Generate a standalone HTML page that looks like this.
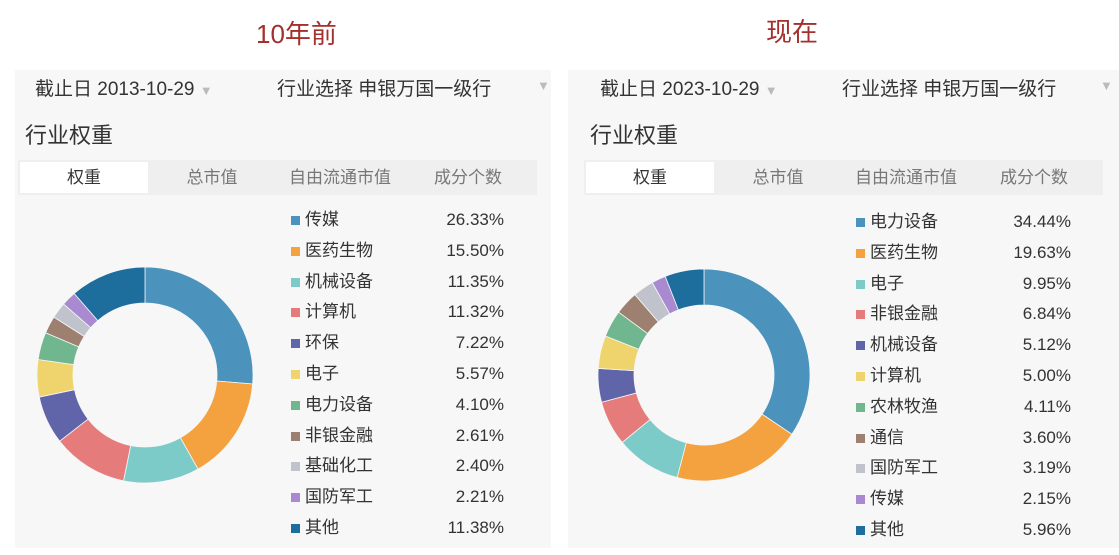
<!DOCTYPE html>
<html><head><meta charset="utf-8">
<style>
body{margin:0;width:1119px;height:555px;background:#fff;position:relative;overflow:hidden;font-family:"Liberation Sans","Noto Sans CJK SC",sans-serif;color:#333}
.a{position:absolute;white-space:nowrap}
.panel{position:absolute;top:70px;height:478px;background:#f7f7f7}
.title{font-size:26px;color:#a3302c;font-family:"Liberation Sans","Noto Sans CJK SC",sans-serif}
.hdr{font-size:19px;color:#333}
.arr{color:#bbb;font-size:13px}
.h2{font-size:22px;color:#333}
.tabs{position:absolute;top:160px;height:35px;background:#efefef;width:519px}
.tab{position:absolute;top:0;height:35px;line-height:35px;text-align:center;width:128px;font-size:17px;color:#777}
.sel{background:#fff;color:#333;top:2px;height:31px;line-height:31px;left:2px}
.lg{position:absolute;font-size:17px;color:#333;height:22px;line-height:22px}
.sq{position:absolute;width:9px;height:9px;top:7px}
</style></head><body>
<div class="a title" style="left:256px;top:14px">10年前</div>
<div class="a title" style="left:766px;top:12px">现在</div>

<div class="panel" style="left:15px;width:536px"></div>
<div class="panel" style="left:568px;width:551px"></div>

<div class="a hdr" style="left:35px;top:74px">截止日 2013-10-29 <span class="arr">▼</span></div>
<div class="a hdr" style="left:277px;top:74px">行业选择 申银万国一级行</div>
<div class="a arr" style="left:537px;top:78px">▼</div>
<div class="a hdr" style="left:600px;top:74px">截止日 2023-10-29 <span class="arr">▼</span></div>
<div class="a hdr" style="left:842px;top:74px">行业选择 申银万国一级行</div>
<div class="a arr" style="left:1100px;top:78px">▼</div>

<div class="a h2" style="left:25px;top:118px">行业权重</div>
<div class="a h2" style="left:590px;top:118px">行业权重</div>

<div class="tabs" style="left:18px">
<div class="tab sel">权重</div><div class="tab" style="left:130px">总市值</div><div class="tab" style="left:258px">自由流通市值</div><div class="tab" style="left:386px">成分个数</div></div>
<div class="tabs" style="left:584px">
<div class="tab sel">权重</div><div class="tab" style="left:130px">总市值</div><div class="tab" style="left:258px">自由流通市值</div><div class="tab" style="left:386px">成分个数</div></div>

<svg class="a" style="left:0;top:0" width="1119" height="555" id="sv"></svg>
<div id="lg"></div>
<script>
var C={'blue':'#4b93bd','or':'#f4a13f','te':'#7dcbc9','rd':'#e67b7c','pu':'#5f65a8','ye':'#efd46d','gr':'#70b68e','br':'#9e8070','gy':'#c0c3cc','vi':'#a98ad0','db':'#1e6e9d'};
var L=[['传媒',26.33,'blue'],['医药生物',15.50,'or'],['机械设备',11.35,'te'],['计算机',11.32,'rd'],['环保',7.22,'pu'],['电子',5.57,'ye'],['电力设备',4.10,'gr'],['非银金融',2.61,'br'],['基础化工',2.40,'gy'],['国防军工',2.21,'vi'],['其他',11.38,'db']];
var R=[['电力设备',34.44,'blue'],['医药生物',19.63,'or'],['电子',9.95,'te'],['非银金融',6.84,'rd'],['机械设备',5.12,'pu'],['计算机',5.00,'ye'],['农林牧渔',4.11,'gr'],['通信',3.60,'br'],['国防军工',3.19,'gy'],['传媒',2.15,'vi'],['其他',5.96,'db']];
var svg='',lg='';
function donut(d,cx,cy,ro,ri){var t=0,s=0;d.forEach(function(e){t+=e[1]});
d.forEach(function(e){var a0=s/t*2*Math.PI,a1=(s+e[1])/t*2*Math.PI;s+=e[1];
function p(r,a){return (cx+r*Math.sin(a)).toFixed(2)+','+(cy-r*Math.cos(a)).toFixed(2)}
var lf=(a1-a0)>Math.PI?1:0;
svg+='<path d="M'+p(ro,a0)+'A'+ro+','+ro+' 0 '+lf+' 1 '+p(ro,a1)+'L'+p(ri,a1)+'A'+ri+','+ri+' 0 '+lf+' 0 '+p(ri,a0)+'Z" fill="'+C[e[2]]+'" stroke="#f7f7f7" stroke-width="0.8"/>';});}
function legend(d,sx,vx,y0,dy){d.forEach(function(e,i){var y=y0+i*dy;
lg+='<div class="sq" style="left:'+sx+'px;top:'+(y+7)+'px;background:'+C[e[2]]+'"></div>';
lg+='<div class="lg" style="left:'+(sx+14)+'px;top:'+y+'px">'+e[0]+'</div>';
lg+='<div class="lg" style="left:'+(vx-100)+'px;width:100px;text-align:right;top:'+y+'px">'+e[1].toFixed(2)+'%</div>';});}
donut(L,145,375,108,72);donut(R,704,375,106,70);
legend(L,291,504,209,30.8);legend(R,856,1071,211,30.8);
document.getElementById('sv').innerHTML=svg;document.getElementById('lg').innerHTML=lg;
</script>
</body></html>
